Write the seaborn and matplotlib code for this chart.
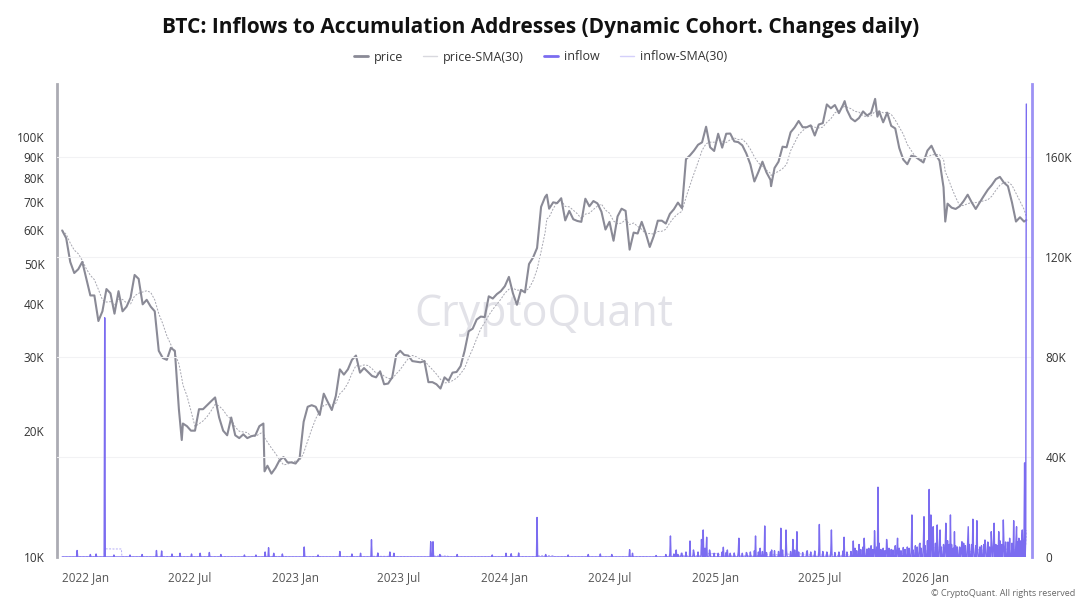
import pandas as pd
import matplotlib
matplotlib.use("Agg")
import matplotlib.pyplot as plt
from matplotlib.lines import Line2D
from matplotlib.ticker import NullLocator
import seaborn as sns

# weekly BTC price (USD), Mondays starting 2021-11-22
price_start = "2021-11-22"
price_weekly = [
    # 2021
    60000, 57500, 50500, 47500, 48500, 50500,
    # 2022
    46000, 42000, 42000, 36500, 38500, 43500, 42500, 38000, 43000, 38500,
    39500, 41500, 47000, 46000, 40000, 41000, 39500, 38500, 31000, 29800,
    29500, 31500, 31000, 22500, 20800, 20500, 20000, 20000, 22500, 22500,
    23000, 23500, 24000, 21500, 20000, 19500, 21500, 19500, 19200, 19600,
    19200, 19400, 19500, 20500, 20800, 16500, 15800, 16300, 17000, 17300,
    16800, 16800,
    # 2023
    16700, 17200, 21000, 22800, 23000, 22800, 21800, 24500, 23400, 22400,
    24200, 28000, 27200, 28000, 29500, 30200, 27500, 28200, 27600, 27000,
    26800, 27700, 25800, 25900, 26800, 30300, 31000, 30300, 30200, 29300,
    29200, 29100, 29300, 26100, 26100, 25800, 25200, 26800, 26300, 27500,
    27600, 28500, 31000, 34500, 35000, 36800, 37400, 37300, 41800, 41300,
    42300, 43000,
    # 2024
    44200, 46500, 42500, 39900, 43300, 42700, 49900, 51700, 54500, 68300,
    72100, 67600, 70000, 69700, 71600, 63400, 66800, 63800, 63200, 62900,
    71400, 68500, 70500, 69600, 66500, 60300, 62900, 56700, 64800, 67600,
    66800, 54000, 59300, 59000, 62900, 59100, 54800, 58200, 63300, 63300,
    62300, 65700, 67400, 69900, 67800, 88700, 90600, 93000, 96000, 97300,
    106000, 94700, 92800,
    # 2025
    102000, 94500, 102000, 102100, 97800, 97400, 95700, 91500, 86200, 78500,
    82700, 87500, 82500, 79200, 84500, 87500, 95000, 94700, 102800, 105600,
    109400, 105700, 105700, 106800, 101000, 107300, 108100, 119800, 117300, 119400,
    114200, 119300, 116200, 111000, 109200, 111200, 115300, 112700, 114400, 123500,
    115300, 108600, 114500, 106500, 105000, 94300, 88500, 86300, 90400, 89900,
    88500, 87100,
    # 2026
    93000, 95500, 91000, 88000, 76000, 69500, 68000, 67500, 68500, 70500,
    73000, 70000, 67500, 70000, 72500, 75000, 77000, 79500, 80500, 78000,
    76500, 70000, 63000, 64500, 63000,
]
price_extra_dates = ["2022-06-18", "2022-11-09", "2024-03-14", "2025-04-08",
                     "2025-08-14", "2025-10-10", "2026-02-05", "2026-06-26"]
price_extra_vals = [19000, 16000, 73000, 76500, 122000, 112000, 63000, 63500]

# inflow events (thousand BTC)
inflow_dates = [
    "2021-12-18", "2022-01-10", "2022-01-20", "2022-02-04", "2022-02-20", "2022-03-20",
    "2022-04-10", "2022-05-05", "2022-05-14", "2022-06-01", "2022-06-15", "2022-07-05",
    "2022-07-20", "2022-08-05", "2022-08-25", "2022-10-05", "2022-10-25", "2022-11-10",
    "2022-11-16", "2022-11-25", "2022-12-10",
    "2023-01-17", "2023-02-10", "2023-03-20", "2023-04-10", "2023-04-25", "2023-05-14",
    "2023-05-25", "2023-06-15", "2023-06-22", "2023-08-25", "2023-08-29", "2023-09-10",
    "2023-10-10", "2023-12-10",
    "2024-01-03", "2024-01-12", "2024-01-25", "2024-02-26", "2024-03-12", "2024-04-20",
    "2024-05-25", "2024-06-15", "2024-07-05", "2024-08-05", "2024-08-10", "2024-09-20",
    "2024-10-15", "2024-10-25", "2024-11-03", "2024-11-18", "2024-11-24", "2024-12-08",
    "2024-12-11", "2024-12-14", "2024-12-17", "2024-12-22",
    "2025-01-15", "2025-01-22", "2025-02-11", "2025-02-25", "2025-03-12", "2025-03-20",
    "2025-03-28", "2025-04-09", "2025-04-25", "2025-05-04", "2025-05-16", "2025-05-23",
    "2025-06-10", "2025-07-01", "2025-07-22", "2025-08-13", "2025-08-29", "2025-09-17",
    "2025-10-05", "2025-10-11", "2025-10-26", "2025-11-14", "2025-12-09", "2025-12-23",
    "2025-12-30",
    "2026-01-08", "2026-01-11", "2026-01-15", "2026-01-22", "2026-01-27", "2026-02-06",
    "2026-02-14", "2026-02-21", "2026-03-06", "2026-03-17", "2026-03-25", "2026-04-01",
    "2026-04-15", "2026-04-26", "2026-05-01", "2026-05-09", "2026-05-17", "2026-05-28",
    "2026-06-04", "2026-06-09", "2026-06-13", "2026-06-19", "2026-06-23", "2026-06-26",
]
inflow_vals = [
    2.6, 1.0, 1.2, 95.6, 0.8, 0.8,
    1.0, 2.6, 2.4, 1.2, 1.5, 1.2,
    1.5, 1.8, 1.0, 0.8, 0.8, 2.0,
    3.7, 1.5, 1.2,
    4.0, 0.8, 2.2, 1.2, 1.5, 6.9,
    1.6, 2.0, 1.5, 6.1, 6.1, 1.0,
    1.0, 0.8,
    1.5, 1.3, 1.6, 15.8, 1.0, 0.8,
    1.0, 1.2, 1.0, 2.9, 1.5, 0.6,
    8.4, 2.8, 1.5, 6.4, 2.8, 7.0,
    10.8, 3.5, 7.9, 2.8,
    3.9, 2.8, 7.5, 1.5, 8.4, 3.5,
    12.4, 2.8, 11.5, 10.8, 7.0, 10.1,
    2.5, 13.0, 10.8, 7.9, 6.4, 7.5,
    10.5, 27.9, 7.0, 7.5, 16.8, 5.5,
    16.1,
    27.0, 16.8, 12.1, 12.8, 10.8, 13.5,
    16.8, 10.1, 6.1, 12.1, 15.1, 14.5,
    6.8, 10.1, 13.5, 10.1, 14.8, 7.5,
    14.5, 12.1, 7.5, 10.8, 37.6, 181.0,
]
# weekly background inflow level (thousand BTC), Mondays from 2024-10-07
base_start = "2024-10-07"
inflow_base_weekly = [
    1.0, 1.5, 1.2, 1.0, 1.5, 2.0, 1.5, 1.8, 2.0, 2.5, 2.2, 1.8, 1.5,
    1.5, 2.0, 1.8, 1.5, 1.6, 2.0, 1.5, 1.8, 2.0, 2.5, 2.0, 2.2, 1.8,
    2.0, 2.5, 2.2, 2.8, 2.5, 2.2, 2.8, 2.0, 1.8, 2.2, 2.0, 2.4, 2.0,
    2.2, 2.0, 2.5, 1.8, 2.0, 2.4, 2.0, 2.2, 3.5, 5.0, 4.0, 3.2, 4.5,
    4.0, 5.5, 3.5, 4.0, 3.0, 4.5, 3.5, 3.8, 4.0, 3.5, 4.5, 5.0, 6.0,
    6.5, 7.0, 5.5, 6.0, 5.0, 6.5, 5.0, 4.5, 4.0, 5.5, 6.0, 5.0, 4.5,
    4.0, 5.0, 6.0, 5.5, 5.0, 6.5, 5.5, 6.0, 5.5, 7.0, 6.5, 8.0,
]
# mid-week background level (thousand BTC), Thursdays from 2025-09-04
base_mid_start = "2025-09-04"
inflow_base_midweek = [
    2.5, 3.0, 2.2, 3.5, 3.0, 4.0, 3.0, 2.5, 3.5, 2.8, 3.2, 2.5, 3.0,
    3.5, 2.8, 4.0, 3.5, 4.5, 5.0, 4.0, 5.5, 4.0, 4.5, 5.0, 3.5, 4.0,
    3.5, 4.5, 5.0, 4.0, 3.5, 4.5, 5.0, 4.0, 5.5, 4.5, 5.0, 6.0, 4.5,
    5.5, 6.0, 7.0, 8.0,
]

x_ticks = ["2022-01-01", "2022-07-01", "2023-01-01", "2023-07-01", "2024-01-01",
           "2024-07-01", "2025-01-01", "2025-07-01", "2026-01-01"]
x_tick_labels = ["2022 Jan", "2022 Jul", "2023 Jan", "2023 Jul", "2024 Jan",
                 "2024 Jul", "2025 Jan", "2025 Jul", "2026 Jan"]
left_ticks = [10000, 20000, 30000, 40000, 50000, 60000, 70000, 80000, 90000, 100000]
left_tick_labels = ["10K", "20K", "30K", "40K", "50K", "60K", "70K", "80K", "90K", "100K"]
right_ticks = [0, 40, 80, 120, 160]
right_tick_labels = ["0", "40K", "80K", "120K", "160K"]

PRICE_C = "#8a8a96"
PRICE_SMA_C = "#a6a6b0"
INFLOW_C = "#7b6cf0"
INFLOW_SMA_C = "#b4acf6"

# build frames
price = pd.DataFrame({"date": pd.date_range(price_start, periods=len(price_weekly), freq="W-MON"),
                      "price": price_weekly})
extra = pd.DataFrame({"date": pd.to_datetime(price_extra_dates), "price": price_extra_vals})
price = pd.concat([price, extra]).sort_values("date").set_index("date")
price["sma"] = price["price"].rolling("30D").mean()
price = price.reset_index()

events = pd.Series(inflow_vals, index=pd.to_datetime(inflow_dates))
base = pd.Series(inflow_base_weekly,
                 index=pd.date_range(base_start, periods=len(inflow_base_weekly), freq="W-MON"))
base_mid = pd.Series(inflow_base_midweek,
                     index=pd.date_range(base_mid_start, periods=len(inflow_base_midweek), freq="W-THU"))
days = pd.date_range(price_start, "2026-06-26", freq="D")
inflow = pd.concat([events, base, base_mid]).groupby(level=0).max().reindex(days, fill_value=0.0)
inflow_df = pd.DataFrame({"date": days, "inflow": inflow.values,
                          "sma": inflow.rolling(30, min_periods=1).mean().values})

sns.set_style("white")
plt.rcParams["font.family"] = ["Open Sans", "DejaVu Sans"]

fig = plt.figure(figsize=(10.81, 6.05), dpi=100)
ax = fig.add_axes([57 / 1081, 48 / 605, (1031.5 - 57) / 1081, (557 - 84) / 605])

ax.text(0.5, 1 - (315 - 84) / 473, "CryptoQuant", transform=ax.transAxes, ha="center",
        va="center", fontsize=31, color="#e2e2e8", zorder=0)

sns.lineplot(data=price, x="date", y="sma", ax=ax, color=PRICE_SMA_C, linewidth=0.7,
             linestyle=(0, (2, 1.5)))
sns.lineplot(data=price, x="date", y="price", ax=ax, color=PRICE_C, linewidth=1.5)

ax2 = ax.twinx()
sns.lineplot(data=inflow_df, x="date", y="sma", ax=ax2, color=INFLOW_SMA_C, linewidth=0.7,
             linestyle=(0, (2, 1.5)))
sns.lineplot(data=inflow_df, x="date", y="inflow", ax=ax2, color=INFLOW_C, linewidth=1.0)

ax.set_xlim(pd.Timestamp("2021-11-13"), pd.Timestamp("2026-07-05"))
ax.set_yscale("log")
ax.set_ylim(10000, 134000)
ax.set_yticks(left_ticks)
ax.set_yticklabels(left_tick_labels)
ax.yaxis.set_minor_locator(NullLocator())
ax2.set_ylim(0, 189)
ax2.set_yticks(right_ticks)
ax2.set_yticklabels(right_tick_labels)

ax.set_xticks(pd.to_datetime(x_ticks))
ax.set_xticklabels(x_tick_labels)
for a in (ax, ax2):
    a.set_xlabel("")
    a.set_ylabel("")
ax.tick_params(axis="y", length=0, pad=9, labelsize=8.5, labelcolor="#333333")
ax2.tick_params(axis="y", length=0, pad=10, labelsize=8.5, labelcolor="#333333")
ax.tick_params(axis="x", length=5, color="#d0d0d0", pad=5, labelsize=8.5, labelcolor="#555555")

ax.grid(False)
ax2.grid(False)
ax2.yaxis.grid(True, color="#f2f2f4", linewidth=0.8)

for s in ("top", "right", "bottom"):
    ax.spines[s].set_visible(False)
for s in ("top", "left", "bottom"):
    ax2.spines[s].set_visible(False)
ax.spines["left"].set_color("#ababb3")
ax.spines["left"].set_linewidth(2)
ax2.spines["right"].set_color("#9d92f4")
ax2.spines["right"].set_linewidth(2)

fig.text(0.5, 1 - 27 / 605, "BTC: Inflows to Accumulation Addresses (Dynamic Cohort. Changes daily)",
         ha="center", va="center", fontsize=15, fontweight="bold", color="#111111")

handles = [Line2D([], [], color=PRICE_C, lw=2),
           Line2D([], [], color="#d8d8de", lw=1),
           Line2D([], [], color=INFLOW_C, lw=2),
           Line2D([], [], color="#d4d0fa", lw=1)]
fig.legend(handles, ["price", "price-SMA(30)", "inflow", "inflow-SMA(30)"], loc="center",
           bbox_to_anchor=(0.5, 1 - 57 / 605), ncol=4, frameon=False, fontsize=9,
           handlelength=1.1, handletextpad=0.5, columnspacing=1.6, labelcolor="#333333")

fig.text(1075 / 1081, 1 - 594 / 605, "© CryptoQuant. All rights reserved", ha="right",
         va="center", fontsize=6.5, color="#666666")

fig.savefig("out.png", dpi=100)
